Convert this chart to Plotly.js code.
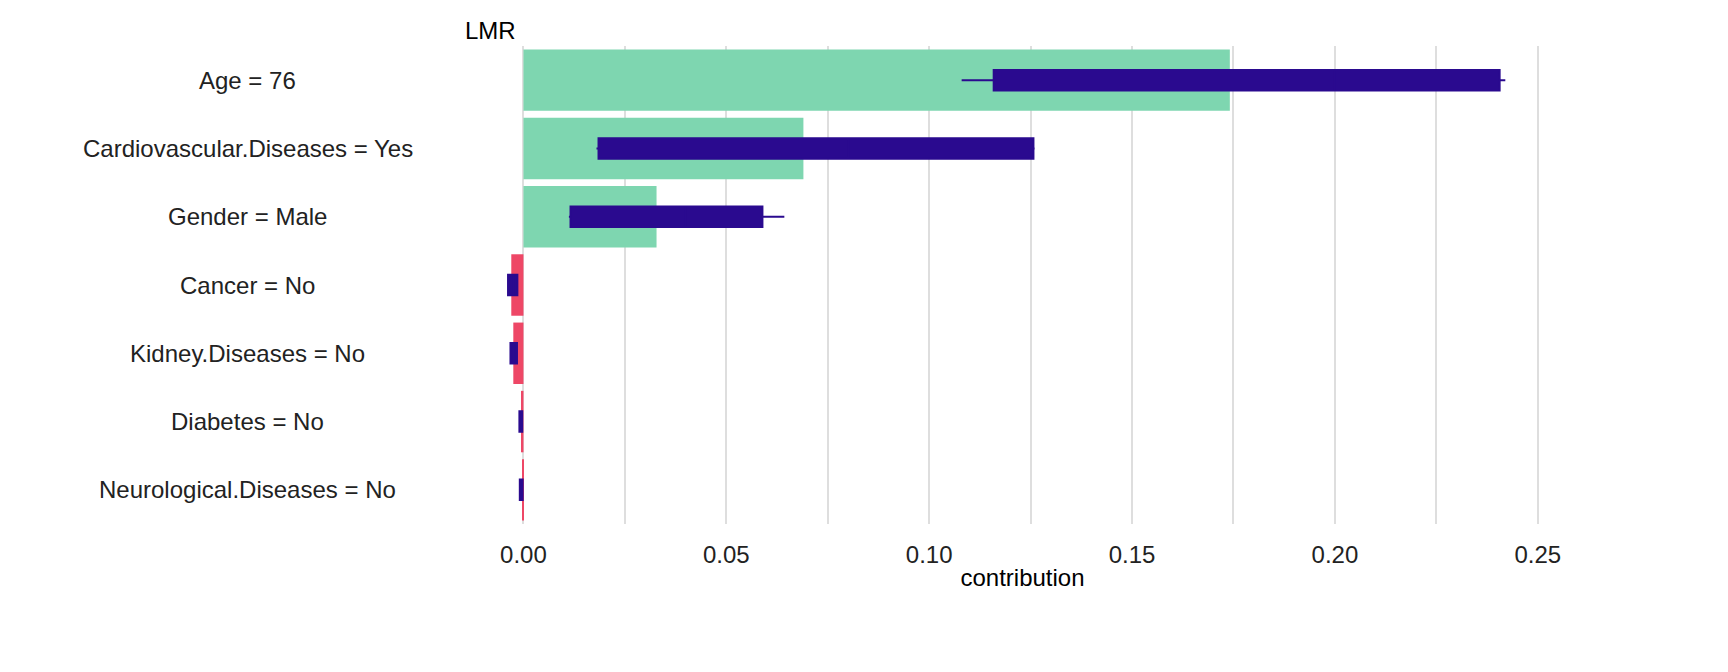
<!DOCTYPE html>
<html>
<head>
<script src="https://cdn.plot.ly/plotly-3.0.1.min.js"></script>
<style>body{margin:0}</style>
</head>
<body>
<div id="myChart" style="width:1728px;height:672px"></div>
<script>
const features = ['Age = 76', 'Cardiovascular.Diseases = Yes', 'Gender = Male', 'Cancer = No',
                  'Kidney.Diseases = No', 'Diabetes = No', 'Neurological.Diseases = No'];
const contributions = [0.1741, 0.069, 0.0328, -0.003, -0.0025, -0.0006, -0.0003];
const q1 = [0.1159, 0.0185, 0.0116, -0.0038, -0.0032, -0.0010, -0.0009];
const q3 = [0.2406, 0.1257, 0.0589, -0.0015, -0.0016, -0.0003, -0.0002];
const medians = [0.20, 0.08, 0.04, -0.0025, -0.0024, -0.0006, -0.0005];
const lowWhisker = [0.108, 0.0180, 0.0112, -0.0040, -0.0034, -0.0011, -0.0010];
const highWhisker = [0.242, 0.1260, 0.0643, -0.0014, -0.0015, -0.0002, -0.0001];

const barColors = contributions.map(v => v >= 0 ? '#7ED6B0' : '#EE4766');

const bars = {
    type: 'bar',
    orientation: 'h',
    y: features,
    x: contributions,
    width: 0.9,
    marker: { color: barColors },
    hoverinfo: 'x+y'
};

const boxes = {
    type: 'box',
    orientation: 'h',
    y: features,
    q1: q1,
    median: medians,
    q3: q3,
    lowerfence: lowWhisker,
    upperfence: highWhisker,
    width: 0.3,
    whiskerwidth: 0,
    fillcolor: '#2A0A8F',
    line: { color: '#2A0A8F', width: 2 },
    boxpoints: false
};

// centred feature labels, as in the original
const labelAnnotations = features.map(f => ({
    text: f, xref: 'paper', yref: 'y', x: -0.2286, y: f,
    xanchor: 'center', yanchor: 'middle', showarrow: false,
    font: { size: 24, color: '#222222' }
}));

const layout = {
    font: { family: 'Liberation Sans, Arial, sans-serif', size: 24, color: '#000000' },
    showlegend: false,
    barmode: 'overlay',
    boxmode: 'overlay',
    paper_bgcolor: '#ffffff',
    plot_bgcolor: '#ffffff',
    margin: { l: 491, r: 174, t: 46, b: 148 },
    xaxis: {
        range: [-0.008, 0.254],
        tickvals: [0, 0.05, 0.1, 0.15, 0.2, 0.25],
        ticktext: ['0.00', '0.05', '0.10', '0.15', '0.20', '0.25'],
        showgrid: true,
        gridcolor: '#dedede',
        gridwidth: 2,
        minor: { dtick: 0.025, tick0: 0.025, showgrid: true, gridcolor: '#dedede', gridwidth: 2 },
        zeroline: false,
        ticks: '',
        ticklabelstandoff: 14,
        tickfont: { size: 24, color: '#222222' },
        title: { text: 'contribution', font: { size: 24 }, standoff: 2 }
    },
    yaxis: {
        categoryorder: 'array',
        categoryarray: features.slice().reverse(),
        showgrid: false,
        zeroline: false,
        ticks: '',
        showticklabels: false
    },
    annotations: [{
        text: 'LMR', xref: 'paper', yref: 'paper', x: 0.025, y: 1.0,
        xanchor: 'right', yanchor: 'bottom', showarrow: false, font: { size: 24 }
    }].concat(labelAnnotations)
};

Plotly.newPlot('myChart', [bars, boxes], layout, { displayModeBar: false });
</script>
</body>
</html>
